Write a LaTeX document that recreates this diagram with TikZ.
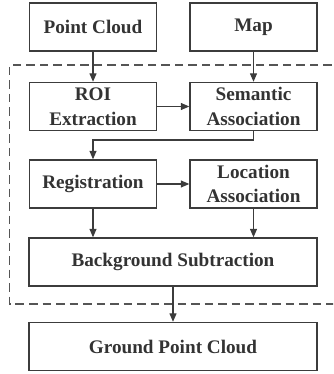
\documentclass[tikz,border=0pt]{standalone}
\usepackage{fontspec}
\setmainfont{Liberation Serif}
\usetikzlibrary{arrows.meta}
\definecolor{boxline}{HTML}{3C3C3C}
\definecolor{boxtext}{HTML}{333333}
\definecolor{dashline}{HTML}{555555}
\begin{document}
\begin{tikzpicture}[x=1pt,y=-1pt,
  blockbox/.style={draw=boxline, line width=1.4pt, inner sep=0pt,
    minimum height=48pt, align=center, text=boxtext,
    font=\fontsize{19.2}{24.5}\selectfont\bfseries},
  halfbox/.style={blockbox, minimum width=127pt},
  widebox/.style={blockbox, minimum width=288pt},
  flow/.style={draw=boxline, line width=1.2pt,
    -{Triangle[length=8.5pt,width=7pt]}}]
  \useasboundingbox (0,0) rectangle (333,374);
  \begin{scope}
    \clip (0,0) rectangle (333,374);
    % dashed frame around the processing stages
    \draw[dashline, line width=1.4pt, dash pattern=on 8.5pt off 5pt]
      (345,65) -- (9.5,65) -- (9.5,304) -- (345,304);
  \end{scope}

  \node[halfbox] (pc)  at (93,27)    {Point Cloud};
  \node[halfbox] (map) at (253.5,27) {Map};
  \node[halfbox] (roi) at (93,106.5) {ROI\\Extraction};
  \node[halfbox] (sem) at (253.5,106.5) {Semantic\\Association};
  \node[halfbox] (reg) at (93,184)   {Registration};
  \node[halfbox] (loc) at (253.5,184) {Location\\Association};
  \node[widebox] (bg)  at (173,262)  {Background Subtraction};
  \node[widebox] (gpc) at (173,346.5) {Ground Point Cloud};

  \coordinate (bend1) at (253.5,140);
  \coordinate (bend2) at (93,140);

  \draw[flow] (pc) -- (roi);
  \draw[flow] (map) -- (sem);
  \draw[flow] (roi) -- (sem);
  \draw[flow] (sem.south) -- (bend1) -- (bend2) -- (reg.north);
  \draw[flow] (reg) -- (loc);
  \draw[flow] (reg.south) -- (reg.south |- bg.north);
  \draw[flow] (loc.south) -- (loc.south |- bg.north);
  \draw[flow] (bg) -- (gpc);
\end{tikzpicture}
\end{document}
